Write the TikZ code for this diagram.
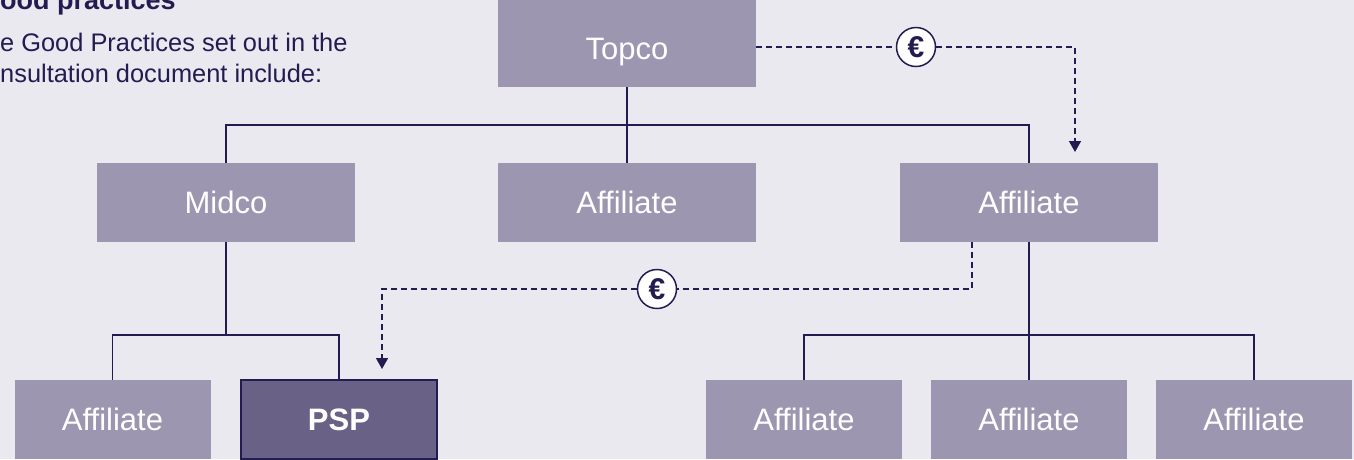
\documentclass[tikz,border=0pt]{standalone}
\usepackage{fontspec}
\setmainfont{Liberation Sans}
\usetikzlibrary{arrows.meta}
\definecolor{bg}{HTML}{EBE9F0}
\definecolor{boxc}{HTML}{9C96B0}
\definecolor{pspc}{HTML}{6A6186}
\definecolor{navy}{HTML}{221C50}
\tikzset{
  box/.style={fill=boxc, draw=none, minimum width=258pt, minimum height=79pt, inner sep=0pt, text=white, font=\fontsize{31}{36}\selectfont, text height=22.2pt, text depth=0pt},
  sbox/.style={box, minimum width=196pt},
  link/.style={draw=navy, line width=1.5pt},
  money/.style={draw=navy, dashed, dash pattern=on 6pt off 4pt, line width=1.5pt},
  euro/.style={circle, draw=navy, fill=white, line width=1.5pt, minimum size=39pt, inner sep=0pt, text=navy, font=\fontsize{30}{32}\selectfont\bfseries},
  tip/.style={-{Triangle[length=11pt,width=12pt]}},
  header/.style={anchor=base west, inner sep=0pt, text=navy, font=\fontsize{25.4}{28}\selectfont}
}
\begin{document}
\begin{tikzpicture}[x=1pt,y=-1pt]
\fill[bg] (0,0) rectangle (1354,459);
\useasboundingbox (0,0) rectangle (1354,459);
\clip (0,0) rectangle (1354,459);
% header text
\node[header, font=\fontsize{27}{30}\selectfont\bfseries] (title) at (0,9) {\llap{G}ood practices};
\node[header] (l1) at (0,51) {\llap{Th}e Good Practices set out in the};
\node[header] (l2) at (0,82) {\llap{co}nsultation document include:};
% boxes
\node[box, minimum height=87pt, text height=31.2pt] (topco) at (627,43.5) {Topco};
\node[box] (midco) at (226,202.5) {Midco};
\node[box] (aff1) at (627,202.5) {Affiliate};
\node[box] (aff2) at (1029,202.5) {Affiliate};
\node[sbox] (aff3) at (112.5,419.5) {Affiliate};
\node[sbox, fill=pspc, draw=navy, line width=1.2pt, font=\fontsize{31}{36}\selectfont\bfseries] (psp) at (339,419.5) {PSP};
\node[sbox] (aff4) at (804,419.5) {Affiliate};
\node[sbox] (aff5) at (1029,419.5) {Affiliate};
\node[sbox] (aff6) at (1254,419.5) {Affiliate};
% junction coordinates
\coordinate (j1) at (627,125);
\coordinate (j2) at (226,335);
\coordinate (j3) at (1029,335);
% tree links
\draw[link] (topco.south) -- (j1);
\draw[link] (midco.north) |- (j1) -| (aff2.north);
\draw[link] (j1) -- (aff1.north);
\draw[link] (midco.south) -- (j2);
\draw[link] (aff3.north) |- (j2) -| (psp.north);
\draw[link] (aff2.south) -- (aff5.north);
\draw[link] (aff4.north) |- (j3) -| (aff6.north);
% money flows
\coordinate (m1) at (1075,47);
\coordinate (m1e) at (1075,152);
\node[euro] (e1) at (916,47) {€};
\draw[money] (topco.east |- m1) -- (e1.west);
\draw[money, tip] (e1.east) -- (m1) -- (m1e);
\coordinate (m2s) at (972,242);
\coordinate (m2a) at (972,289);
\coordinate (m2b) at (382,289);
\coordinate (m2e) at (382,369);
\node[euro] (e2) at (657,289) {€};
\draw[money] (m2s) -- (m2a) -- (e2.east);
\draw[money, tip] (e2.west) -- (m2b) -- (m2e);
\end{tikzpicture}
\end{document}
